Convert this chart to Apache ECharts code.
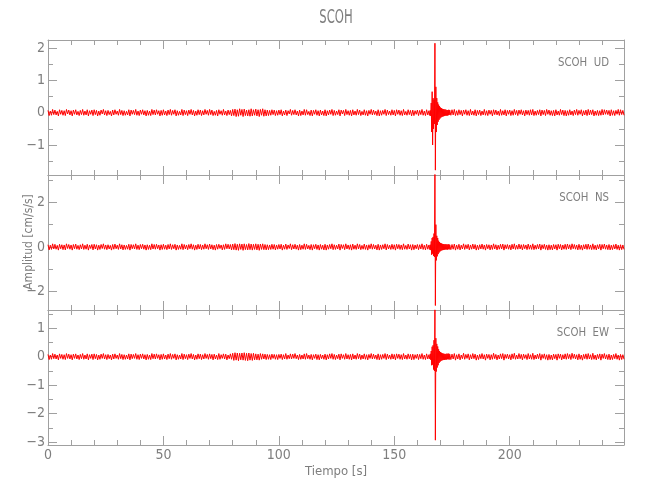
<!DOCTYPE html>
<html><head><meta charset="utf-8">
<script src="https://cdn.jsdelivr.net/npm/echarts@6/dist/echarts.min.js"></script>
<style>html,body{margin:0;padding:0;background:#fff}#c{width:650px;height:500px}</style>
</head><body><div id="c"></div>
<script>
// Values in hundredths of cm/s/s (multiply by unitScale)
const unitScale = 0.01;
// sampling: pre-event 0..165 s every 0.5 s, event 165.2..174.0 s every 0.2 s, post 174.5..249.5 s every 0.5 s
const preStart = 0, preStep = 0.5;
const evStart = 165.2, evStep = 0.2;
const postStart = 174.5, postStep = 0.5;

const xMajorTicks = [0, 50, 100, 150, 200];
const xMinorTicks = [10,20,30,40,60,70,80,90,110,120,130,140,160,170,180,190,210,220,230,240];
const componentNames = ['UD', 'NS', 'EW'];
const stationName = 'SCOH';
const xTitle = 'Tiempo [s]';
const yTitle = 'Amplitud [cm/s/s]';

const udPre = [7,-9,5,-8,10,-6,8,-7,4,-10,9,-5,7,-8,6,-9,10,-4,8,-7,
6,-10,8,-5,9,-7,4,-9,7,-6,10,-8,5,-7,9,-10,6,-5,8,-9,
9,-6,7,-10,5,-8,8,-4,10,-7,6,-9,7,-6,4,-10,8,-7,9,-5,
5,-8,10,-6,7,-9,6,-8,4,-7,9,-10,8,-5,7,-6,10,-8,5,-9,
8,-5,9,-7,6,-10,7,-8,5,-9,10,-6,8,-7,9,-5,6,-10,7,-8,
9,-7,5,-9,8,-6,10,-8,7,-5,9,-10,6,-8,4,-7,10,-9,8,-6,
6,-9,8,-5,10,-7,7,-10,5,-8,9,-6,8,-9,6,-7,10,-5,7,-8,
10,-6,8,-9,4,-8,7,-10,9,-5,6,-8,10,-7,5,-9,8,-6,7,-10,
10,-9,11,-12,9,-11,12,-8,10,-12,11,-9,8,-10,9,-11,12,-10,9,-8,
11,-10,9,-12,10,-8,12,-11,9,-10,8,-9,7,-8,9,-6,8,-9,6,-8,
8,-6,9,-10,5,-7,8,-9,6,-4,10,-8,7,-6,9,-7,5,-10,8,-9,
5,-7,10,-8,9,-6,4,-9,8,-10,7,-5,9,-8,6,-10,8,-7,5,-9,
9,-10,6,-7,8,-5,10,-9,7,-8,5,-6,9,-10,8,-4,7,-9,10,-6,
6,-8,7,-10,9,-7,5,-8,10,-6,8,-9,4,-7,9,-8,6,-10,7,-5,
10,-7,8,-6,5,-9,9,-10,6,-8,7,-5,10,-9,8,-6,5,-8,9,-7,
7,-10,9,-5,8,-8,6,-9,10,-7,4,-8,9,-6,7,-10,8,-9,6,-5,
8,-9,7,-6,10,-8,5,-9,9,-7,6];
const udEvent = [8,-9,7,-10,30,-60,65,-100,45,-50,40,-35,215,-178,80,-60,45,-38,32,-28,
25,-22,20,-18,16,-15,14,-13,12,-12,11,-11,10,-10,10,-9,9,-9,8,-9,8,-8,9,-7,8];
const udPost = [-8,9,-7,10,-9,6,-8,9,-6,7,-10,8,-5,9,-8,6,-9,10,-7,5,
-8,9,-10,7,-6,8,-9,5,-7,10,-8,6,-9,8,-5,7,-10,9,-6,8,
-7,5,-9,10,-8,6,-7,9,-10,7,-5,8,-9,6,-8,10,-6,7,-9,8,
-5,9,-7,6,-10,8,-6,7,-8,9,-7,10,-9,5,-8,7,-6,9,-10,8,
-6,7,-9,10,-5,8,-8,6,-9,7,-10,9,-7,5,-8,10,-6,8,-9,7,
-10,6,-8,9,-7,5,-9,8,-6,10,-8,7,-5,9,-10,6,-7,8,-9,10,
-7,8,-6,9,-10,5,-8,7,-9,6,-8,10,-7,9,-5,8,-6,7,-10,9,
-8,6,-9,7,-5,10,-8,9,-6,7,-8];

const nsPre = [10,-13,8,-11,14,-9,12,-10,7,-14,12,-8,10,-12,9,-13,14,-7,11,-10,
9,-14,11,-8,13,-10,7,-12,10,-9,14,-11,8,-10,12,-14,9,-7,11,-13,
12,-9,10,-14,8,-11,11,-7,14,-10,9,-12,10,-9,7,-14,11,-10,13,-8,
8,-11,14,-9,10,-13,9,-11,7,-10,12,-14,11,-8,10,-9,14,-11,8,-12,
11,-8,12,-10,9,-14,10,-11,8,-12,14,-9,11,-10,12,-8,9,-14,10,-11,
12,-10,8,-12,11,-9,14,-11,10,-8,12,-14,9,-11,7,-10,14,-12,11,-9,
9,-12,11,-8,14,-10,10,-14,8,-11,12,-9,11,-12,9,-10,14,-8,10,-11,
13,-9,10,-12,8,-14,11,-10,12,-7,9,-13,10,-11,14,-8,12,-9,11,-13,
13,-12,15,-14,12,-15,14,-11,13,-15,14,-12,11,-13,15,-12,13,-14,12,-11,
14,-13,12,-15,13,-11,14,-12,11,-13,10,-12,9,-11,12,-10,11,-13,9,-10,
11,-9,12,-14,8,-10,13,-11,9,-7,14,-12,10,-9,12,-10,8,-14,11,-12,
8,-10,14,-11,12,-9,7,-12,11,-14,10,-8,12,-11,9,-14,11,-10,8,-13,
12,-14,9,-10,11,-8,14,-12,10,-11,8,-9,13,-14,11,-7,10,-12,14,-9,
9,-11,10,-14,13,-10,8,-11,14,-9,11,-12,7,-10,13,-11,9,-14,10,-8,
14,-10,11,-9,8,-13,12,-14,9,-11,10,-8,14,-13,11,-9,8,-11,12,-10,
10,-14,12,-8,11,-11,9,-12,14,-10,7,-11,13,-9,10,-14,11,-12,9,-8,
11,-12,10,-9,14,-11,8,-13,12,-10,9];
const nsEvent = [11,-12,10,-14,25,-35,40,-30,45,-40,60,-45,360,-262,100,-60,50,-42,40,-32,
28,-25,22,-20,18,-17,16,-15,14,-14,13,-13,12,-12,12,-11,12,-11,11,-12,11,-10,12,-11,10];
const nsPost = [-12,11,-10,13,-14,9,-10,12,-13,8,-9,14,-11,10,-8,12,-13,9,-10,13,
-9,11,-14,8,-12,10,-9,13,-10,9,-14,11,-8,10,-13,9,-11,14,-9,10,
-13,8,-10,12,-9,13,-14,10,-8,11,-10,9,-13,12,-9,14,-11,8,-10,13,
-9,10,-13,11,-8,9,-12,13,-10,9,-11,14,-12,8,-10,11,-9,13,-14,10,
-8,12,-11,9,-14,10,-12,8,-13,11,-9,10,-14,12,-8,11,-13,9,-10,12,
-11,13,-9,10,-12,14,-8,11,-10,9,-13,12,-11,8,-14,10,-9,12,-11,13,
-10,9,-12,14,-11,8,-13,10,-9,12,-14,11,-8,13,-10,9,-12,11,-13,8,
-12,10,-9,13,-11,8,-14,10,-12,9,-11];

const ewPre = [8,-10,6,-9,11,-7,9,-8,6,-11,10,-6,8,-9,7,-10,11,-6,9,-8,
7,-11,9,-6,10,-8,6,-10,8,-7,11,-9,6,-8,10,-11,7,-6,9,-10,
10,-7,8,-11,6,-9,9,-6,11,-8,7,-10,8,-7,6,-11,9,-8,10,-6,
6,-9,11,-7,8,-10,7,-9,6,-8,10,-11,9,-7,8,-6,11,-9,7,-10,
9,-6,10,-8,7,-11,8,-9,6,-10,11,-7,9,-8,10,-6,7,-11,8,-9,
10,-8,6,-10,9,-7,11,-9,8,-6,10,-11,7,-9,6,-8,11,-10,9,-7,
7,-10,9,-6,11,-8,8,-11,6,-9,10,-7,9,-10,7,-8,11,-6,8,-9,
10,-7,8,-11,9,-8,6,-10,11,-9,7,-6,10,-8,9,-11,6,-7,10,-9,
12,-13,14,-12,13,-14,12,-11,13,-12,14,-13,12,-14,13,-12,11,-13,12,-11,
10,-11,9,-12,11,-9,10,-8,9,-10,8,-9,7,-10,9,-6,8,-9,7,-10,
8,-6,9,-10,7,-8,11,-9,6,-7,10,-8,9,-6,11,-7,6,-10,8,-9,
6,-8,10,-9,11,-7,6,-9,8,-11,7,-6,9,-10,7,-11,8,-7,6,-9,
9,-11,7,-8,10,-6,11,-9,8,-10,6,-7,9,-11,10,-6,7,-9,11,-8,
7,-9,8,-11,10,-8,6,-9,11,-7,9,-10,6,-8,10,-9,7,-11,8,-6,
11,-8,9,-7,6,-10,10,-11,7,-9,8,-6,11,-10,9,-7,6,-9,10,-8,
8,-11,10,-6,9,-9,7,-10,11,-8,6,-9,10,-7,8,-11,9,-10,7,-6,
9,-10,8,-7,11,-9,6,-10,10,-8,7];
const ewEvent = [9,-8,10,-11,20,-30,35,-28,40,-45,58,-50,165,-293,65,-52,45,-38,36,-30,
26,-22,20,-18,16,-15,14,-13,12,-12,11,-11,10,-11,10,-10,9,-10,11,-9,10,-9,11,-10,9];
const ewPost = [-10,9,-8,11,-12,7,-8,10,-11,6,-7,12,-9,8,-6,10,-11,7,-8,11,
-7,9,-12,6,-10,8,-7,11,-8,7,-12,9,-6,8,-11,7,-9,12,-7,8,
-11,6,-8,10,-7,11,-12,8,-6,9,-8,7,-11,10,-7,12,-9,6,-8,11,
-7,8,-11,9,-6,7,-10,11,-8,7,-9,12,-10,6,-8,9,-7,11,-12,8,
-6,10,-9,7,-12,8,-10,6,-11,9,-7,8,-12,10,-6,9,-11,7,-8,10,
-9,11,-7,8,-10,12,-6,9,-8,7,-11,10,-9,6,-12,8,-7,10,-9,11,
-8,7,-10,12,-9,6,-11,8,-7,10,-12,9,-6,11,-8,7,-10,9,-11,6,
-10,8,-7,11,-9,6,-12,8,-10,7,-9];

// y-axis ranges and ticks per panel
const yRanges = [[-1.93, 2.25], [-2.82, 3.22], [-3.1, 1.64]];
const yMajorTicks = [[-1, 0, 1, 2], [-2, 0, 2], [-3, -2, -1, 0, 1]];
const yMinorTicks = [[-1.5, -0.5, 0.5, 1.5], [-1, 1, 3], [-2.5, -1.5, -0.5, 0.5, 1.5]];

function buildTrace(pre, ev, post) {
  const out = [];
  pre.forEach((v, i) => out.push([+(preStart + i * preStep).toFixed(1), v * unitScale]));
  ev.forEach((v, i) => out.push([+(evStart + i * evStep).toFixed(1), v * unitScale]));
  post.forEach((v, i) => out.push([+(postStart + i * postStep).toFixed(1), v * unitScale]));
  return out;
}
const traces = [buildTrace(udPre, udEvent, udPost), buildTrace(nsPre, nsEvent, nsPost), buildTrace(ewPre, ewEvent, ewPost)];

const FONT = "'Liberation Sans Narrow', 'DejaVu Sans Condensed', 'Roboto Condensed', sans-serif";
const AXC = '#a0a0a0';
const TXC = '#7e7e7e';
const gridTops = [40, 175, 310];
const gridH = 135;
const fmt = v => String(v).replace('-', '\u2212');

const grid = [], xAxis = [], yAxis = [], series = [], graphic = [];
for (let k = 0; k < 3; k++) {
  grid.push({ left: 48, width: 576, top: gridTops[k], height: gridH, containLabel: false });
  const xBase = { type: 'value', gridIndex: k, min: 0, max: 249.5, splitLine: { show: false },
    axisLine: { show: true, onZero: false, lineStyle: { color: AXC, width: 1 } } };
  const isLast = k === 2;
  xAxis.push(Object.assign({}, xBase, {
    position: 'bottom',
    axisTick: { show: true, inside: true, length: 9, customValues: xMajorTicks, lineStyle: { color: AXC } },
    axisLabel: { show: isLast, customValues: xMajorTicks, color: TXC, fontFamily: FONT, fontSize: 14, margin: 3 }
  }));
  xAxis.push(Object.assign({}, xBase, {
    position: 'bottom', axisLine: { show: false, onZero: false },
    axisTick: { show: true, inside: true, length: 5, customValues: xMinorTicks, lineStyle: { color: AXC } },
    axisLabel: { show: false }
  }));
  xAxis.push(Object.assign({}, xBase, {
    position: 'top',
    axisTick: { show: true, inside: true, length: 9, customValues: xMajorTicks, lineStyle: { color: AXC } },
    axisLabel: { show: false }
  }));
  xAxis.push(Object.assign({}, xBase, {
    position: 'top', axisLine: { show: false, onZero: false },
    axisTick: { show: true, inside: true, length: 5, customValues: xMinorTicks, lineStyle: { color: AXC } },
    axisLabel: { show: false }
  }));

  const yBase = { type: 'value', gridIndex: k, min: yRanges[k][0], max: yRanges[k][1], splitLine: { show: false },
    axisLine: { show: true, onZero: false, lineStyle: { color: AXC, width: 1 } } };
  yAxis.push(Object.assign({}, yBase, {
    position: 'left',
    axisTick: { show: true, inside: true, length: 9, customValues: yMajorTicks[k], lineStyle: { color: AXC } },
    axisLabel: { show: true, customValues: yMajorTicks[k], formatter: fmt, color: TXC, fontFamily: FONT, fontSize: 14, margin: 3 }
  }));
  yAxis.push(Object.assign({}, yBase, {
    position: 'left', axisLine: { show: false, onZero: false },
    axisTick: { show: true, inside: true, length: 5, customValues: yMinorTicks[k], lineStyle: { color: AXC } },
    axisLabel: { show: false }
  }));
  yAxis.push(Object.assign({}, yBase, {
    position: 'right',
    axisTick: { show: true, inside: true, length: 9, customValues: yMajorTicks[k], lineStyle: { color: AXC } },
    axisLabel: { show: false }
  }));
  yAxis.push(Object.assign({}, yBase, {
    position: 'right', axisLine: { show: false, onZero: false },
    axisTick: { show: true, inside: true, length: 5, customValues: yMinorTicks[k], lineStyle: { color: AXC } },
    axisLabel: { show: false }
  }));

  series.push({
    type: 'line', xAxisIndex: k * 4, yAxisIndex: k * 4, data: traces[k],
    showSymbol: false, symbol: 'none', clip: true,
    lineStyle: { color: '#ff0000', width: 1 }, itemStyle: { color: '#ff0000' }
  });

  graphic.push({
    type: 'text', x: 609, y: gridTops[k] + 23, scaleX: 0.87,
    style: { text: stationName + '  ' + componentNames[k], align: 'right', verticalAlign: 'middle',
      fill: TXC, font: '13px ' + FONT }
  });
}
graphic.push({
  type: 'text', x: 336, y: 18, scaleX: 0.68,
  style: { text: stationName, align: 'center', verticalAlign: 'middle', fill: TXC, font: '19px ' + FONT }
});
graphic.push({
  type: 'text', x: 29, y: 242, rotation: Math.PI / 2,
  style: { text: yTitle, align: 'center', verticalAlign: 'middle', fill: TXC, font: '12px ' + FONT }
});
graphic.push({
  type: 'text', x: 336, y: 472,
  style: { text: xTitle, align: 'center', verticalAlign: 'middle', fill: TXC, font: '13px ' + FONT }
});

const chart = echarts.init(document.getElementById('c'), null, { renderer: 'canvas' });
chart.setOption({ animation: false, backgroundColor: '#ffffff', grid, xAxis, yAxis, series, graphic });
</script>
</body></html>
